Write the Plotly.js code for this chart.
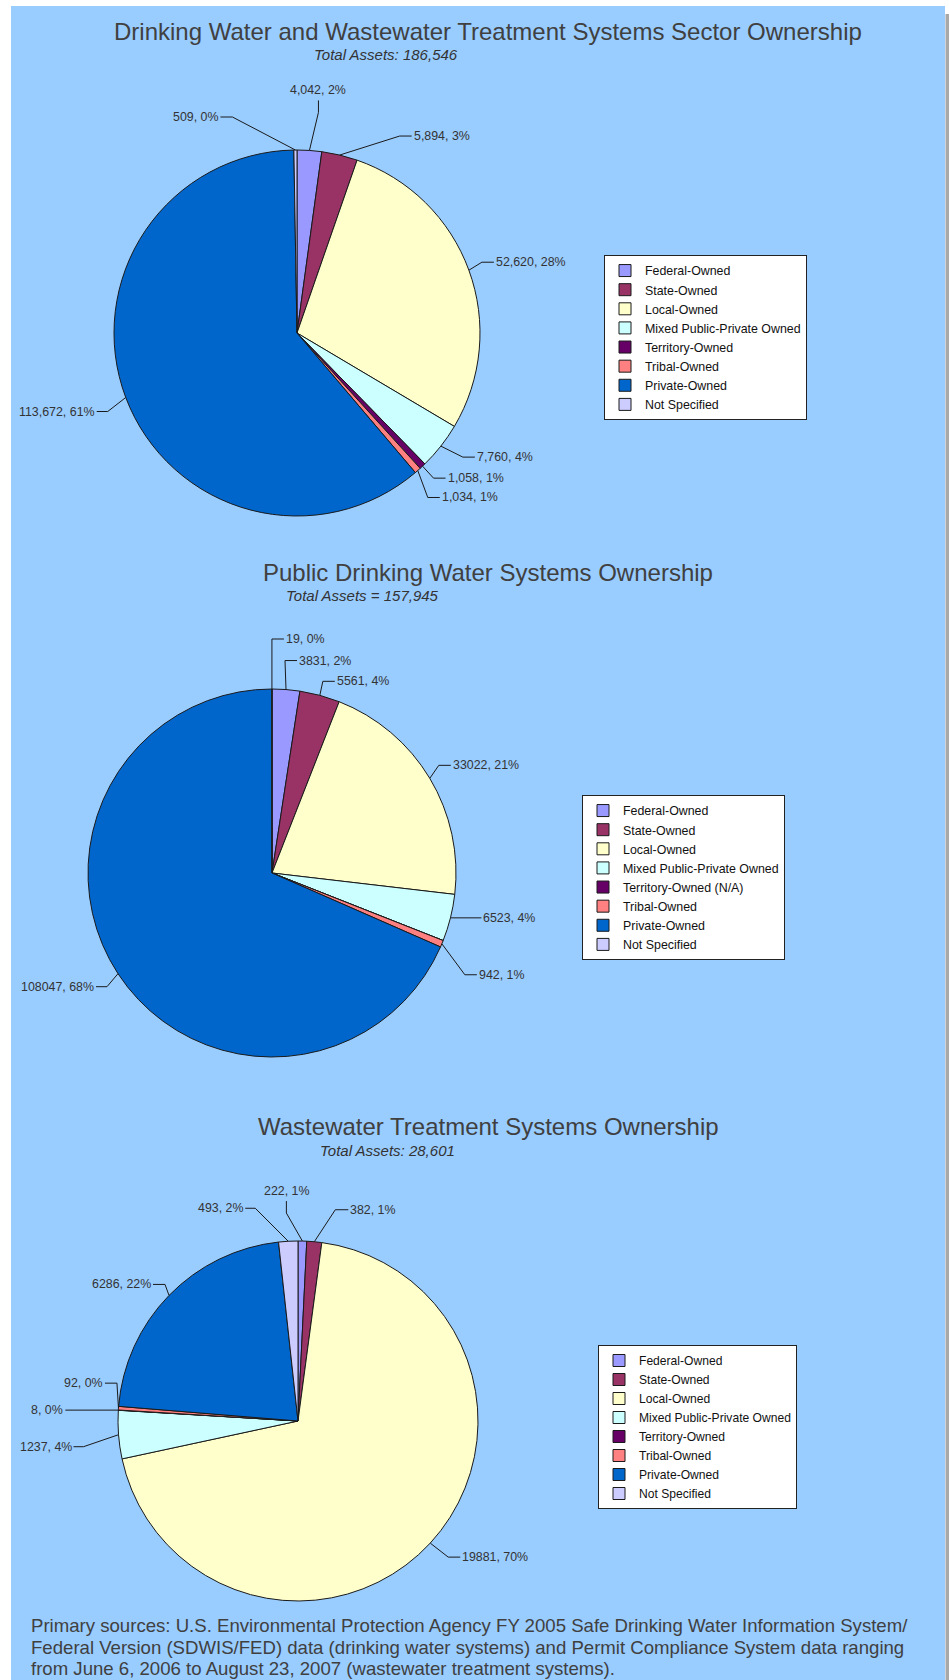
<!DOCTYPE html>
<html><head><meta charset="utf-8">
<script src="https://cdn.plot.ly/plotly-3.0.1.min.js"></script>
<style>html,body{margin:0;padding:0;background:#fff}#chart{width:949px;height:1680px}</style>
</head><body><div id="chart"></div>
<script>
// ---------- data ----------
const categories = ['Federal-Owned','State-Owned','Local-Owned','Mixed Public-Private Owned','Territory-Owned','Tribal-Owned','Private-Owned','Not Specified'];
const categoriesDrinking = ['Federal-Owned','State-Owned','Local-Owned','Mixed Public-Private Owned','Territory-Owned (N/A)','Tribal-Owned','Private-Owned','Not Specified'];
const sectorValues = [4042, 5894, 52620, 7760, 1058, 1034, 113672, 509];
const drinkingValues = [3831, 5561, 33022, 6523, 0, 942, 108047, 19];
const wastewaterValues = [222, 382, 19881, 1237, 8, 92, 6286, 493];
const chartTitles = ['Drinking Water and Wastewater Treatment Systems Sector Ownership','Public Drinking Water Systems Ownership','Wastewater Treatment Systems Ownership'];
const chartSubtitles = ['Total Assets: 186,546','Total Assets = 157,945','Total Assets: 28,601'];
const footerLines = [
  'Primary sources: U.S. Environmental Protection Agency FY 2005 Safe Drinking Water Information System/',
  'Federal Version (SDWIS/FED) data (drinking water systems) and Permit Compliance System data ranging',
  'from June 6, 2006 to August 23, 2007 (wastewater treatment systems).'
];

// ---------- styling / layout ----------
const W = 949, H = 1680;
const FONT = 'Liberation Sans, Arial, sans-serif';
const sliceColors = ['#9999FF','#993366','#FFFFCC','#CCFFFF','#660066','#FF8080','#0066CC','#CCCCFF'];
const px = x => x / W, py = y => 1 - y / H;

// label placement: [elbow dx, elbow dy, side ('r','l','u'), horizontal length]
const pies = [
  {values: sectorValues, labels: categories, cx: 297, cy: 333, r: 183, thousands: true,
   titleY: 31, subX: 386, subY: 55, legend: {x: 604, y: 255, size: 12.4},
   place: [[9,-38,'u',12],[60,-19,'r',12],[13,-8,'r',12],[22,11,'r',12],[11,12,'r',12],[10,27,'r',12],[-18,14,'l',11],[-63,-33,'l',12]]},
  {values: drinkingValues, labels: categoriesDrinking, cx: 272, cy: 873, r: 184, thousands: false,
   titleY: 572, subX: 362, subY: 595, legend: {x: 582, y: 795, size: 12.4},
   place: [[-1,-29,'r',12],[3,-14,'r',12],[9,-13,'r',12],[0,0,'r',31],null,[23,31,'r',12],[-11,13,'l',11],[0,-50,'r',12]]},
  {values: wastewaterValues, labels: categories, cx: 298, cy: 1421, r: 180, thousands: false,
   titleY: 1126, subX: 387, subY: 1150, legend: {x: 598, y: 1345, size: 12.1},
   place: [[-16,-28,'u',12],[21,-32,'r',13],[18,14,'r',12],[-35,12,'l',10],[0,0,'l',53],[-1.5,-25,'l',12],[-4,-11,'l',12],[-33,-33,'l',10]]}
];

const traces = [], shapes = [], annotations = [];
const layout = {
  width: W, height: H, margin: {l: 0, r: 0, t: 0, b: 0},
  paper_bgcolor: '#ffffff', plot_bgcolor: 'rgba(0,0,0,0)',
  font: {family: FONT, color: '#333333'},
  showlegend: true, hovermode: false
};

// background panel
shapes.push({type: 'rect', xref: 'paper', yref: 'paper', x0: px(11), x1: px(945), y0: 0, y1: py(6),
  fillcolor: '#99CCFF', line: {width: 0}, layer: 'below'});
shapes.push({type: 'rect', xref: 'paper', yref: 'paper', x0: px(945.5), x1: px(949), y0: 0, y1: py(14),
  fillcolor: '#A8A8A8', line: {width: 0}, layer: 'below'});

pies.forEach((p, i) => {
  const legName = i === 0 ? 'legend' : 'legend' + (i + 1);
  // pie legend entries are keyed by label text; an invisible suffix keeps each chart's legend separate
  const suffix = '\u200B'.repeat(i);
  traces.push({
    type: 'pie', values: p.values, labels: p.labels.map(l => l + suffix), sort: false, direction: 'clockwise', rotation: 0,
    textinfo: 'none', hoverinfo: 'skip',
    marker: {colors: sliceColors, line: {color: '#1a1a1a', width: 1}},
    domain: {x: [px(p.cx - p.r), px(p.cx + p.r)], y: [py(p.cy + p.r), py(p.cy - p.r)]},
    legend: legName, showlegend: true
  });
  layout[legName] = {
    x: px(p.legend.x), y: py(p.legend.y), xanchor: 'left', yanchor: 'top',
    bgcolor: '#ffffff', bordercolor: '#222222', borderwidth: 1, traceorder: 'normal',
    font: {family: FONT, size: p.legend.size, color: '#111111'}, itemclick: false
  };
  // titles
  annotations.push({text: chartTitles[i], xref: 'paper', yref: 'paper', x: px(488), y: py(p.titleY),
    xanchor: 'center', yanchor: 'middle', showarrow: false, font: {family: FONT, size: 24, color: '#404040'}});
  annotations.push({text: '<i>' + chartSubtitles[i] + '</i>', xref: 'paper', yref: 'paper', x: px(p.subX), y: py(p.subY),
    xanchor: 'center', yanchor: 'middle', showarrow: false, font: {family: FONT, size: 15, color: '#333333'}});
  // data labels with leader lines, positioned from the slice mid-angles
  const total = p.values.reduce((a, b) => a + b, 0);
  let cum = 0;
  p.values.forEach((v, k) => {
    const a0 = cum / total * 2 * Math.PI; cum += v; const a1 = cum / total * 2 * Math.PI;
    const pl = p.place[k];
    if (!v || !pl) return;
    const mid = (a0 + a1) / 2;
    const P = [p.cx + p.r * Math.sin(mid), p.cy - p.r * Math.cos(mid)];
    const E = [P[0] + pl[0], P[1] + pl[1]];
    const side = pl[2], hl = pl[3];
    let T, tx, ty, anchor;
    if (side === 'u') { T = [E[0], E[1] - hl]; tx = E[0]; ty = E[1] - hl - 10; anchor = 'center'; }
    else if (side === 'r') { T = [E[0] + hl, E[1]]; tx = T[0] + 1; ty = E[1]; anchor = 'left'; }
    else { T = [E[0] - hl, E[1]]; tx = T[0] - 1; ty = E[1]; anchor = 'right'; }
    shapes.push({type: 'path', xref: 'paper', yref: 'paper',
      path: `M${px(P[0])},${py(P[1])} L${px(E[0])},${py(E[1])} L${px(T[0])},${py(T[1])}`,
      line: {color: '#1a1a1a', width: 1}});
    const valTxt = p.thousands ? v.toLocaleString('en-US') : String(v);
    const pct = Math.round(v / total * 100);
    annotations.push({text: valTxt + ', ' + pct + '%', xref: 'paper', yref: 'paper', x: px(tx), y: py(ty),
      xanchor: anchor, yanchor: 'middle', showarrow: false, borderpad: 0,
      font: {family: FONT, size: 12.4, color: '#333333'}});
  });
});

// footer
const footerY = [1625, 1647, 1668];
footerLines.forEach((t, i) => {
  annotations.push({text: t, xref: 'paper', yref: 'paper', x: px(30), y: py(footerY[i]),
    xanchor: 'left', yanchor: 'middle', showarrow: false, borderpad: 0,
    font: {family: FONT, size: 18.6, color: '#404040'}});
});

layout.shapes = shapes;
layout.annotations = annotations;
Plotly.newPlot('chart', traces, layout, {displayModeBar: false, staticPlot: true});
</script></body></html>
